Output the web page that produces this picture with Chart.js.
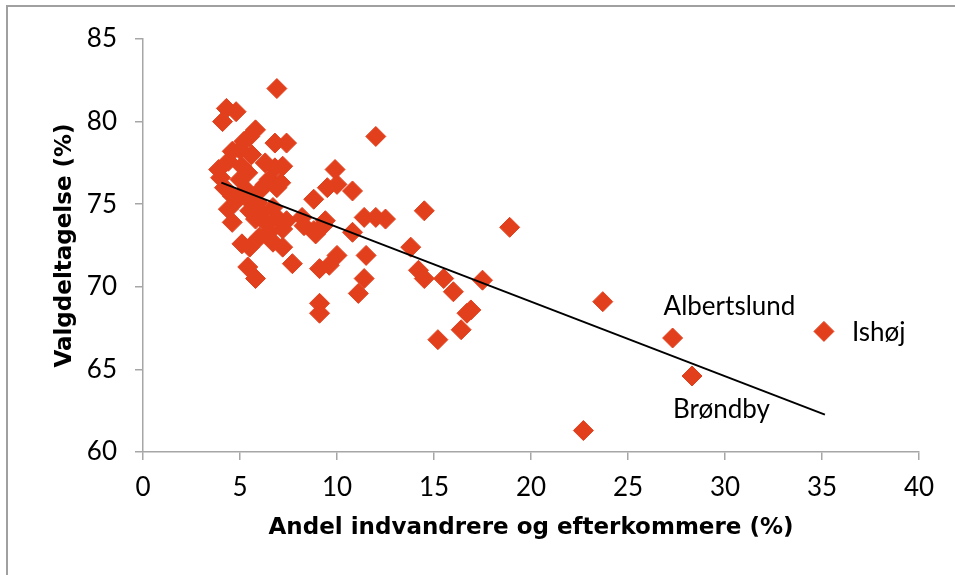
<!DOCTYPE html>
<html>
<head>
<meta charset="utf-8">
<script src="https://cdn.jsdelivr.net/npm/chart.js@4"></script>
<style>
    body { margin: 0; background: #fff; }
    #chart { display: block; }
</style>
</head>
<body>
<canvas id="chart" width="955" height="575"></canvas>
<script>
// andel indvandrere og efterkommere (%) per kommune
const shareImmigrants = [
    6.9, 4.3, 4.8, 4.1, 5.8, 5.5, 5.2, 6.8, 7.4, 12.0,
    4.6, 5.0, 4.4, 3.9, 5.1, 5.4, 6.3, 6.8, 7.2, 6.5,
    7.1, 4.0, 9.9, 9.5, 10.0, 10.8, 8.8, 4.2, 4.6, 4.9,
    4.4, 4.6, 6.3, 6.9, 5.9, 6.1, 6.7, 6.9, 5.8, 6.4,
    7.2, 6.5, 6.7, 7.2, 5.1, 5.5, 5.4, 5.8, 7.7, 8.2,
    8.3, 8.8, 9.3, 9.4, 8.9, 10.8, 11.4, 12.0, 12.5, 14.5,
    18.9, 13.8, 10.0, 9.6, 9.1, 11.5, 14.2, 14.5, 15.5, 17.5,
    11.4, 11.1, 16.0, 16.9, 16.7, 16.4, 15.2, 9.1, 9.1, 23.7,
    22.7, 5.4, 5.0, 6.0, 5.5, 5.6, 6.0, 7.4, 5.3,
    27.3, 35.1, 28.3
];
// valgdeltagelse (%)
const turnout = [
    82.0, 80.8, 80.6, 80.0, 79.5, 79.1, 78.8, 78.7, 78.7, 79.1,
    78.2, 78.3, 77.6, 77.1, 77.3, 76.9, 77.5, 77.2, 77.3, 76.5,
    76.3, 76.6, 77.1, 76.0, 76.2, 75.8, 75.3, 76.0, 75.5, 75.3,
    74.7, 73.9, 76.2, 76.0, 75.1, 74.5, 74.8, 74.2, 74.1, 73.8,
    73.5, 73.3, 72.7, 72.4, 72.6, 72.4, 71.2, 70.5, 71.4, 74.2,
    73.7, 73.4, 73.7, 74.0, 73.2, 73.3, 74.2, 74.2, 74.1, 74.6,
    73.6, 72.4, 71.9, 71.3, 71.1, 71.9, 71.0, 70.5, 70.5, 70.4,
    70.5, 69.6, 69.7, 68.6, 68.4, 67.4, 66.8, 69.0, 68.4, 69.1,
    61.3, 75.3, 76.5, 73.0, 74.6, 78.0, 75.8, 74.0, 75.9,
    66.9, 67.3, 64.6
];
// lineær tendenslinje (endepunkter)
const trendX = [4.04, 35.15];
const trendY = [76.31, 62.26];

const xTicks = [0, 5, 10, 15, 20, 25, 30, 35, 40];
const yTicks = [60, 65, 70, 75, 80, 85];

const calloutNames = ['Albertslund', 'Ishøj', 'Brøndby'];
const calloutIndex = [89, 90, 91];

const AXIS_GRAY = '#a6a6a6';
const MARK_RED = '#e2401d';
const TICK_FONT = { family: 'Lato', size: 26 };
const TITLE_FONT = { family: 'DejaVu Sans', size: 23, weight: 'bold' };

const points = shareImmigrants.map((x, i) => ({ x: x, y: turnout[i] }));
const trend = trendX.map((x, i) => ({ x: x, y: trendY[i] }));

// text offsets (px) from the marker they belong to
const calloutOffsets = [[-9, -23], [28, 10], [-19, 42]];

const calloutPlugin = {
    id: 'callouts',
    afterDatasetsDraw(chart) {
        const meta = chart.getDatasetMeta(1);
        const ctx = chart.ctx;
        ctx.save();
        ctx.font = `${TICK_FONT.size}px ${TICK_FONT.family}`;
        ctx.fillStyle = '#000';
        ctx.textAlign = 'left';
        ctx.textBaseline = 'alphabetic';
        calloutNames.forEach((name, i) => {
            const el = meta.data[calloutIndex[i]];
            ctx.fillText(name, el.x + calloutOffsets[i][0], el.y + calloutOffsets[i][1]);
        });
        ctx.restore();
    }
};

const framePlugin = {
    id: 'frame',
    beforeDraw(chart) {
        const ctx = chart.ctx;
        ctx.save();
        ctx.strokeStyle = '#a0a0a0';
        ctx.lineWidth = 2;
        ctx.beginPath();
        ctx.moveTo(7, 575);
        ctx.lineTo(7, 6);
        ctx.lineTo(955, 6);
        ctx.stroke();
        ctx.restore();
    }
};

function axisOptions(min, max, ticks, title, isX) {
    return {
        type: 'linear',
        min: min,
        max: max,
        afterBuildTicks: scale => { scale.ticks = ticks.map(v => ({ value: v })); },
        afterFit: scale => {
            if (isX) scale.height = 110;
            else scale.width = 143;
        },
        ticks: {
            font: TICK_FONT,
            color: '#000',
            padding: isX ? 12 : 18
        },
        grid: {
            drawOnChartArea: false,
            drawTicks: true,
            tickLength: 8,
            color: AXIS_GRAY,
            lineWidth: 1.5
        },
        border: { display: true, color: AXIS_GRAY, width: 1.5 },
        title: {
            display: true,
            text: title,
            color: '#000',
            font: TITLE_FONT,
            padding: isX ? { top: 0, bottom: 20 } : { top: 51, bottom: 0 }
        }
    };
}

new Chart(document.getElementById('chart'), {
    type: 'scatter',
    data: {
        datasets: [
            {
                data: trend,
                showLine: true,
                borderColor: '#000',
                borderWidth: 2,
                pointRadius: 0,
                fill: false
            },
            {
                data: points,
                pointStyle: 'rectRot',
                pointRadius: 10,
                backgroundColor: MARK_RED,
                borderColor: MARK_RED,
                borderWidth: 1
            }
        ]
    },
    options: {
        responsive: false,
        animation: false,
        devicePixelRatio: 1,
        layout: { padding: { left: 0, top: 39, right: 36, bottom: 13 } },
        scales: {
            x: axisOptions(0, 40, xTicks, 'Andel indvandrere og efterkommere (%)', true),
            y: axisOptions(60, 85, yTicks, 'Valgdeltagelse (%)', false)
        },
        plugins: {
            legend: { display: false },
            tooltip: { enabled: false }
        }
    },
    plugins: [framePlugin, calloutPlugin]
});
</script>
</body>
</html>
